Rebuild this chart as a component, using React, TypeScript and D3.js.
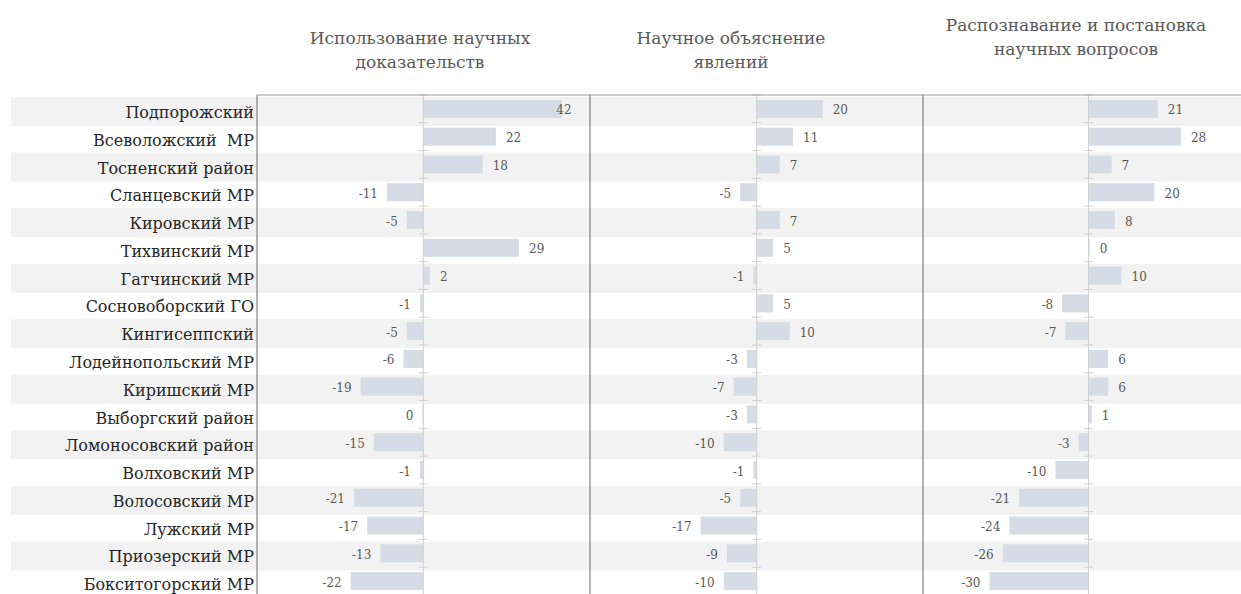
import React from "react";
import * as d3 from "d3";

const categories = [
  "Подпорожский",
  "Всеволожский  МР",
  "Тосненский район",
  "Сланцевский МР",
  "Кировский МР",
  "Тихвинский МР",
  "Гатчинский МР",
  "Сосновоборский ГО",
  "Кингисеппский",
  "Лодейнопольский МР",
  "Киришский МР",
  "Выборгский район",
  "Ломоносовский район",
  "Волховский МР",
  "Волосовский МР",
  "Лужский МР",
  "Приозерский МР",
  "Бокситогорский МР",
];

const evidenceValues = [42, 22, 18, -11, -5, 29, 2, -1, -5, -6, -19, -0.3, -15, -1, -21, -17, -13, -22];
const explainValues = [20, 11, 7, -5, 7, 5, -1, 5, 10, -3, -7, -3, -10, -1, -5, -17, -9, -10];
const questionValues = [21, 28, 7, 20, 8, 0.4, 10, -8, -7, 6, 6, 1, -3, -10, -21, -24, -26, -30];

const panelTitles = [
  ["Использование научных", "доказательств"],
  ["Научное объяснение", "явлений"],
  ["Распознавание и постановка", "научных вопросов"],
];

const xDomain: [number, number] = [-50, 50];

const W = 1241;
const H = 594;
const TOP = 95;
const BOTTOM = 595;
const panelLefts = [257, 590, 923];
const panelZeros = [423.3, 756.7, 1088.5];
const titleCenters = [420, 731, 1076];
const titleBaselines = [[44, 68], [44, 68], [31, 55]];

const FONT = "'DejaVu Serif', 'Liberation Serif', serif";

export default function App() {
  const series = [evidenceValues, explainValues, questionValues];
  const y = d3
    .scaleBand<string>()
    .domain(categories)
    .range([TOP, BOTTOM])
    .paddingInner(0.35)
    .paddingOuter(0.175);
  const step = y.step();
  const rowTop = (i: number) => TOP + i * step;

  const xs = panelZeros.map((z) =>
    d3.scaleLinear().domain(xDomain).range([z - 165, z + 165])
  );
  const fmt = (v: number) => `${Math.round(v)}`;

  return (
    <svg
      width={W}
      height={H}
      style={{ position: "absolute", left: 0, top: 0, background: "#fff" }}
    >
      {/* row bands */}
      {categories.map((c, i) =>
        i % 2 === 0 ? (
          <rect key={c} x={11} y={rowTop(i) + 2} width={W - 11} height={29} fill="#f2f2f2" />
        ) : null
      )}

      {/* bars */}
      {series.map((vals, p) => {
        const x = xs[p];
        return (
          <g key={p}>
            {vals.map((v, i) => {
              const x0 = x(Math.min(0, v));
              const x1 = x(Math.max(0, v));
              return (
                <rect
                  key={i}
                  x={x0}
                  y={y(categories[i])!}
                  width={Math.max(0.8, x1 - x0)}
                  height={y.bandwidth()}
                  fill="#d6dce5"
                />
              );
            })}
          </g>
        );
      })}

      {/* zero axis with ticks */}
      {xs.map((x, p) => {
        const z = x(0);
        return (
          <g key={p} stroke="#d0d0d0" strokeWidth={1}>
            <line x1={z} x2={z} y1={TOP} y2={BOTTOM} />
            {d3.range(categories.length + 1).map((k) => (
              <line key={k} x1={z - 4.5} x2={z + 4.5} y1={rowTop(k)} y2={rowTop(k)} />
            ))}
          </g>
        );
      })}

      {/* panel borders */}
      <line x1={panelLefts[0]} x2={W} y1={TOP} y2={TOP} stroke="#9a9a9a" strokeWidth={1} />
      {panelLefts.map((px, p) => (
        <line key={p} x1={px} x2={px} y1={TOP} y2={BOTTOM} stroke="#808080" strokeWidth={1.2} />
      ))}

      {/* value labels */}
      {series.map((vals, p) => {
        const x = xs[p];
        const z = x(0);
        return (
          <g key={p} fontFamily={FONT} fontSize={12} fill="#595959">
            {vals.map((v, i) => {
              const cy = y(categories[i])! + y.bandwidth() / 2;
              const pos = v >= 0;
              const tx = pos ? Math.min(x(v) + 10, z + 133) : x(v) - 9;
              return (
                <text key={i} x={tx} y={cy + 5.5} textAnchor={pos ? "start" : "end"}>
                  {fmt(v)}
                </text>
              );
            })}
          </g>
        );
      })}

      {/* category labels */}
      <g fontFamily={FONT} fontSize={16} fill="#262626">
        {categories.map((c, i) => (
          <text key={c} x={254} y={rowTop(i) + 23} textAnchor="end" style={{ whiteSpace: "pre" }}>
            {c}
          </text>
        ))}
      </g>

      {/* titles */}
      <g fontFamily={FONT} fontSize={17} fill="#595959" textAnchor="middle">
        {panelTitles.map((lines, p) =>
          lines.map((t, j) => (
            <text key={`${p}-${j}`} x={titleCenters[p]} y={titleBaselines[p][j]}>
              {t}
            </text>
          ))
        )}
      </g>
    </svg>
  );
}
